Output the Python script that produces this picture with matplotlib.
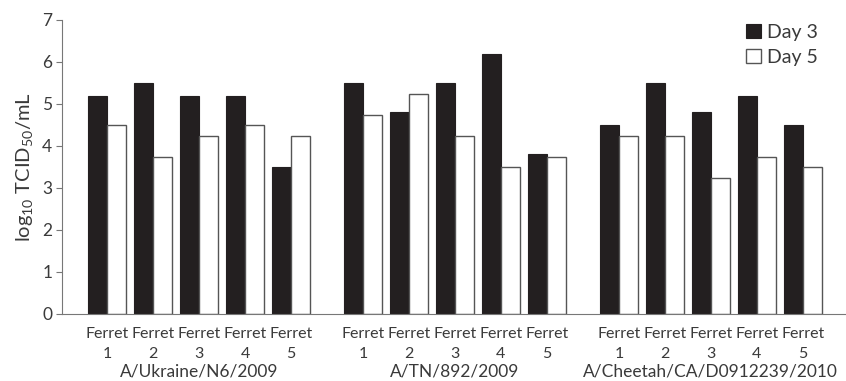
import numpy as np
import matplotlib
matplotlib.use("Agg")
import matplotlib.pyplot as plt
import matplotlib.transforms as mtrans

plt.rcParams['font.family'] = ['Lato', 'DejaVu Sans']
plt.rcParams['mathtext.default'] = 'regular'

# data
groups = ['A/Ukraine/N6/2009', 'A/TN/892/2009', 'A/Cheetah/CA/D0912239/2010']
ferrets = ['Ferret\n1', 'Ferret\n2', 'Ferret\n3', 'Ferret\n4', 'Ferret\n5']
day3 = [5.2, 5.5, 5.2, 5.2, 3.5,
        5.5, 4.8, 5.5, 6.2, 3.8,
        4.5, 5.5, 4.8, 5.2, 4.5]
day5 = [4.5, 3.75, 4.25, 4.5, 4.25,
        4.75, 5.25, 4.25, 3.5, 3.75,
        4.25, 4.25, 3.25, 3.75, 3.5]

text_col = '#3a3a3a'
group_step = 5.565
width = 0.41

fig = plt.figure(figsize=(8.46, 3.81), dpi=100)
ax = fig.add_axes([62 / 846, 67 / 381, 784 / 846, 294 / 381])

x = np.array([g * group_step + i for g in range(len(groups)) for i in range(len(ferrets))])

ax.bar(x - width / 2, day3, width, color='#231f20', edgecolor='#231f20',
       linewidth=0.8, label='Day 3')
ax.bar(x + width / 2, day5, width, color='white', edgecolor='#555555',
       linewidth=1.0, label='Day 5')

ax.set_xlim(-0.98, 16.07)
ax.set_ylim(0, 7)
ax.set_yticks(range(0, 8))
ax.set_xticks(x)
ax.set_xticklabels(ferrets * len(groups), fontsize=11.5, color=text_col,
                   linespacing=1.55)
ax.tick_params(axis='x', length=0, pad=9)
ax.tick_params(axis='y', length=4, width=0.8, color='#777777',
               labelsize=12.5, labelcolor=text_col, pad=3)

for spine in ['top', 'right']:
    ax.spines[spine].set_visible(False)
ax.spines['left'].set_color('#777777')
ax.spines['bottom'].set_color('#777777')

trans = mtrans.blended_transform_factory(ax.transData, ax.transAxes)
for g, name in enumerate(groups):
    ax.text(g * group_step + 2, -0.194, name, ha='center', va='center',
            fontsize=12.5, color=text_col, transform=trans)

ax.set_ylabel('log$_{10}$ TCID$_{50}$/mL', fontsize=14.5, color=text_col, labelpad=5)

ax.legend(loc='upper right', bbox_to_anchor=(0.976, 1.02), frameon=False,
          fontsize=14, handlelength=0.75, handleheight=0.75, handletextpad=0.3,
          labelspacing=0.4, labelcolor=text_col, borderpad=0)

fig.savefig('out.png', dpi=100)
